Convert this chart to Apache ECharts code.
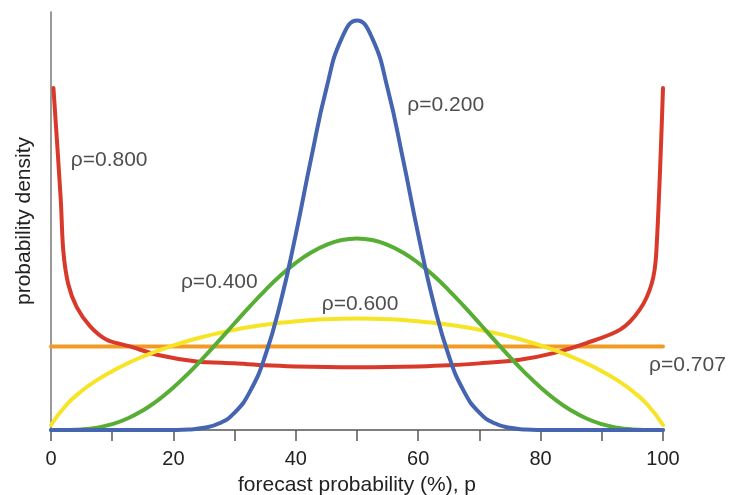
<!DOCTYPE html>
<html>
<head>
<meta charset="utf-8">
<script src="https://cdn.jsdelivr.net/npm/echarts@6/dist/echarts.min.js"></script>
<style>
  html, body { margin: 0; padding: 0; background: #fff; }
  #chart { width: 729px; height: 495px; }
</style>
</head>
<body>
<div id="chart"></div>
<script>
// forecast probability grid (%) shared by the smooth curves
const pGrid = [0, 2.5, 5, 7.5, 10, 12.5, 15, 17.5, 20, 22.5, 25, 27.5, 30, 32.5, 35, 37.5, 40, 42.5, 45, 47.5,
  50, 52.5, 55, 57.5, 60, 62.5, 65, 67.5, 70, 72.5, 75, 77.5, 80, 82.5, 85, 87.5, 90, 92.5, 95, 97.5, 100]

// rho = 0.200
const blueVals = [0, 0, 0, 0, 0, 0, 0, 0, 0.001, 0.007, 0.026, 0.08, 0.207, 0.459, 0.888, 1.525, 2.341, 3.246, 4.085, 4.684,
  4.899, 4.684, 4.085, 3.246, 2.341, 1.525, 0.888, 0.459, 0.207, 0.08, 0.026, 0.007, 0.001, 0, 0, 0, 0, 0, 0, 0, 0]
// rho = 0.400
const greenVals = [0, 0.001, 0.007, 0.028, 0.07, 0.138, 0.234, 0.358, 0.509, 0.681, 0.871, 1.072, 1.277, 1.479, 1.671, 1.847, 1.999, 2.123, 2.215, 2.272,
  2.291, 2.272, 2.215, 2.123, 1.999, 1.847, 1.671, 1.479, 1.277, 1.072, 0.871, 0.681, 0.509, 0.358, 0.234, 0.138, 0.07, 0.028, 0.007, 0.001, 0]
// rho = 0.600
const yellowVals = [0.06, 0.299, 0.466, 0.596, 0.704, 0.797, 0.878, 0.949, 1.012, 1.068, 1.117, 1.16, 1.198, 1.231, 1.259, 1.282, 1.3, 1.315, 1.325, 1.331,
  1.333, 1.331, 1.325, 1.315, 1.3, 1.282, 1.259, 1.231, 1.198, 1.16, 1.117, 1.068, 1.012, 0.949, 0.878, 0.797, 0.704, 0.596, 0.466, 0.299, 0.06]

// rho = 0.800 (own grid, dense near the edges)
const redP = [0.4, 1.6, 2.0, 2.8, 4.2, 6.4, 9.1, 12.9, 17.3, 23.8, 30, 35, 40, 45, 50, 55, 60, 65, 70, 76.6, 82.1, 87.5, 93.0, 96.2, 98.15, 98.9, 100]
const redVals = [4.09, 2.75, 2.15, 1.75, 1.47, 1.24, 1.08, 1.0, 0.9, 0.82, 0.797, 0.775, 0.761, 0.753, 0.75, 0.753, 0.761, 0.775, 0.797, 0.84, 0.92, 1.04, 1.2, 1.44, 1.75, 2.12, 4.09]

// rho = 0.707 (uniform)
const orangeP = [0, 100]
const orangeVals = [1, 1]

// curve labels, placed in data coordinates
const labelText = ['ρ=0.800', 'ρ=0.200', 'ρ=0.400', 'ρ=0.600', 'ρ=0.707']
const labelX = [9.5, 64.5, 27.5, 50.5, 104]
const labelY = [3.23, 3.88, 1.77, 1.5, 0.78]

const xTicks = [0, 20, 40, 60, 80, 100]

const FONT = 'Liberation Sans'
const pairs = (xs, ys) => xs.map((x, i) => [x, ys[i]])

const curve = (name, xs, ys, color, smooth) => ({
  name,
  type: 'line',
  data: pairs(xs, ys),
  smooth,
  showSymbol: false,
  silent: true,
  lineStyle: { color, width: 4, cap: 'round', join: 'round' },
  itemStyle: { color }
})

const chart = echarts.init(document.getElementById('chart'))

chart.setOption({
  animation: false,
  grid: { left: 51, right: 66, top: 12, bottom: 65, containLabel: false, outerBoundsMode: 'none' },
  xAxis: {
    type: 'value',
    min: 0,
    max: 100,
    interval: 10,
    name: 'forecast probability (%), p',
    nameLocation: 'middle',
    nameGap: 45,
    nameTextStyle: { fontFamily: FONT, fontSize: 21, color: '#222' },
    axisLine: { lineStyle: { color: '#555', width: 1.5 } },
    axisTick: { length: 11, lineStyle: { color: '#555', width: 1.5 } },
    axisLabel: {
      fontFamily: FONT,
      fontSize: 20,
      color: '#222',
      margin: 19,
      formatter: v => (xTicks.includes(v) ? String(v) : '')
    },
    splitLine: { show: false }
  },
  yAxis: {
    type: 'value',
    min: 0,
    max: 5,
    name: 'probability density',
    nameLocation: 'middle',
    nameGap: 16,
    nameTextStyle: { fontFamily: FONT, fontSize: 21, color: '#222' },
    axisLine: { show: true, lineStyle: { color: '#777', width: 1.5 } },
    axisTick: { show: false },
    axisLabel: { show: false },
    splitLine: { show: false }
  },
  series: [
    curve('ρ=0.707', orangeP, orangeVals, '#f39a24', false),
    curve('ρ=0.800', redP, redVals, '#d9392a', 0.3),
    curve('ρ=0.600', pGrid, yellowVals, '#f7e427', 0.5),
    curve('ρ=0.400', pGrid, greenVals, '#58ae35', 0.5),
    curve('ρ=0.200', pGrid, blueVals, '#4565b0', 0.5),
    {
      type: 'scatter',
      silent: true,
      clip: false,
      symbolSize: 0,
      data: pairs(labelX, labelY).map((d, i) => ({ value: d, name: labelText[i] })),
      label: {
        show: true,
        position: 'inside',
        formatter: p => p.name,
        fontFamily: FONT,
        fontSize: 21,
        color: '#222'
      }
    }
  ]
})
</script>
</body>
</html>
